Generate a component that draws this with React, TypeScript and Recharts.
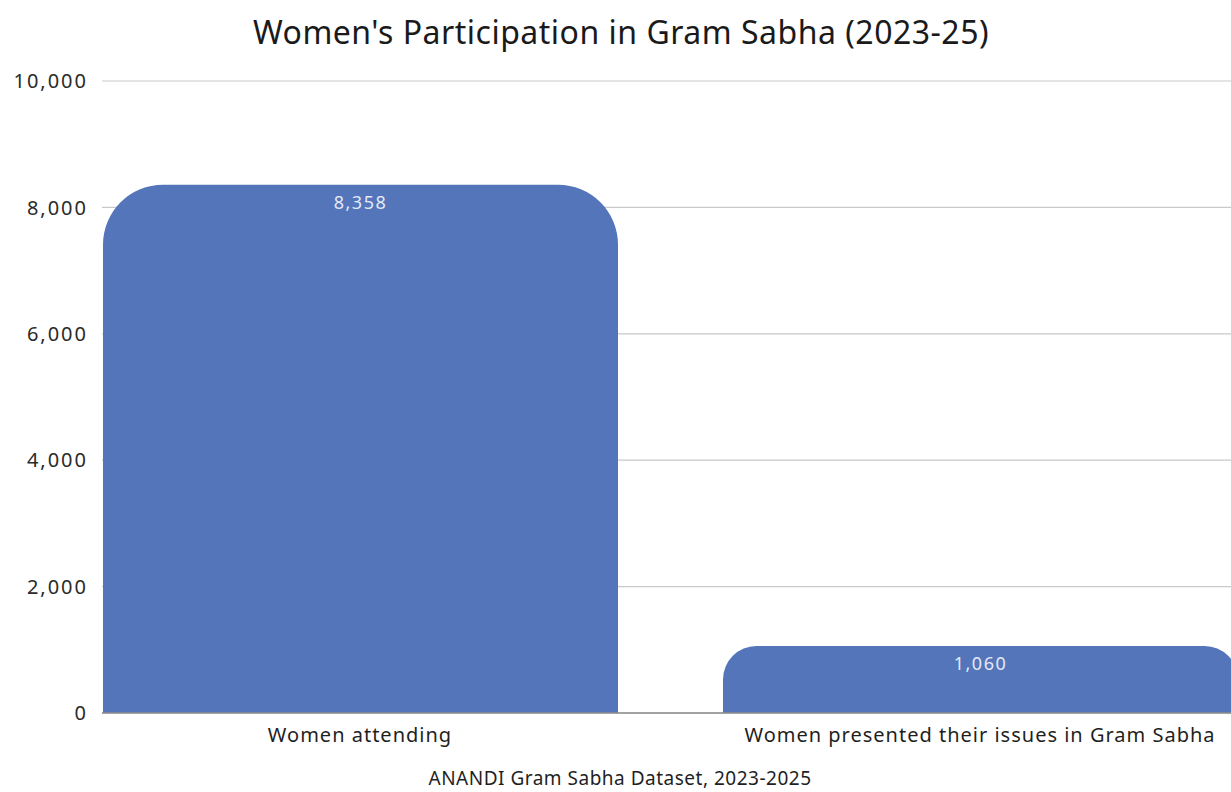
import { BarChart, Bar, XAxis, YAxis, CartesianGrid, LabelList } from 'recharts';

const categories = ['Women attending', 'Women presented their issues in Gram Sabha'];
const womenCount = [8358, 1060];
const yTicks = [0, 2000, 4000, 6000, 8000, 10000];

const data = categories.map((name, i) => ({ name, value: womenCount[i] }));

const fmt = (v: number) => v.toLocaleString('en-US');
const FONT = '"Noto Sans", sans-serif';

export default function App() {
  return (
    <div
      style={{
        position: 'absolute',
        left: 0,
        top: 0,
        width: 1231,
        height: 792,
        overflow: 'hidden',
        background: '#ffffff',
        fontFamily: FONT,
      }}
    >
      <div
        style={{
          position: 'absolute',
          top: 10,
          left: 0,
          width: 1242,
          textAlign: 'center',
          fontSize: 32,
          letterSpacing: 0.5,
          color: '#1a1a1a',
        }}
      >
        Women's Participation in Gram Sabha (2023-25)
      </div>
      <div style={{ position: 'absolute', top: 0, left: 0 }}>
        <BarChart
          width={1238}
          height={792}
          data={data}
          margin={{ top: 81, right: 0, left: 0, bottom: 0 }}
        >
          <CartesianGrid vertical={false} stroke="#c9c9c9" strokeWidth={1.2} />
          <XAxis
            dataKey="name"
            height={79}
            padding={{ left: -52, right: -52 }}
            axisLine={{ stroke: '#8c8c8c', strokeWidth: 1.5 }}
            tickLine={false}
            tickMargin={9}
            tick={{ fill: '#1f1f1f', fontSize: 20, letterSpacing: 1, fontFamily: FONT }}
          />
          <YAxis
            width={102}
            domain={[0, 10000]}
            ticks={yTicks}
            axisLine={false}
            tickLine={false}
            tickMargin={8}
            tickFormatter={fmt}
            tick={{ fill: '#2a2a2a', fontSize: 20, letterSpacing: 2, fontFamily: FONT }}
          />
          <Bar
            dataKey="value"
            fill="#5475BA"
            barSize={515}
            radius={[60, 60, 0, 0]}
            isAnimationActive={false}
          >
            <LabelList
              dataKey="value"
              position="insideTop"
              offset={11}
              formatter={(v: any) => fmt(Number(v))}
              style={{ fill: '#e3e9f5', fontSize: 18, letterSpacing: 1.5, fontFamily: FONT }}
            />
          </Bar>
        </BarChart>
      </div>
      <div
        style={{
          position: 'absolute',
          top: 765,
          left: 0,
          width: 1240,
          textAlign: 'center',
          fontSize: 19,
          letterSpacing: 0.5,
          color: '#1f1f1f',
        }}
      >
        ANANDI Gram Sabha Dataset, 2023-2025
      </div>
    </div>
  );
}
